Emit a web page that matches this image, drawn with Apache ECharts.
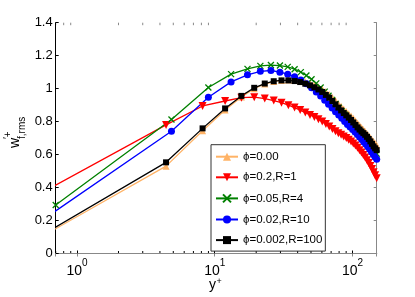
<!DOCTYPE html>
<html><head><meta charset="utf-8">
<script src="https://cdn.jsdelivr.net/npm/echarts@6/dist/echarts.min.js"></script>
<style>html,body{margin:0;padding:0;background:#fff}#c{width:415px;height:297px}</style>
</head><body><div id="c"></div>
<script>
// y+ grids
const yPlusA = [0.65, 4.43, 8.16, 11.89, 15.62, 19.35, 23.08, 26.81, 30.54, 34.27, 38.00, 41.73, 45.46, 49.19, 52.92, 56.65, 60.38, 64.11, 67.84, 71.57, 75.30, 79.03, 82.76, 86.49, 90.22, 93.95, 97.68, 101.41, 105.14, 108.87, 112.60, 116.33, 120.06, 123.79, 127.52, 131.25, 134.98, 138.71, 142.44, 146.17, 149.90];
const yPlusB = [0.70, 4.85, 8.99, 13.14, 17.29, 21.44, 25.58, 29.73, 33.88, 38.02, 42.17, 46.32, 50.46, 54.61, 58.76, 62.91, 67.05, 71.20, 75.35, 79.49, 83.64, 87.79, 91.93, 96.08, 100.23, 104.38, 108.52, 112.67, 116.82, 120.96, 125.11, 129.26, 133.40, 137.55, 141.70, 145.85, 150.00];
const yPlusBlue = [0.65, 4.85, 8.99, 13.14, 17.29, 21.44, 25.58, 29.73, 33.88, 38.02, 42.17, 46.32, 50.46, 54.61, 58.76, 62.91, 67.05, 71.20, 75.35, 79.49, 83.64, 87.79, 91.93, 96.08, 100.23, 104.38, 108.52, 112.67, 116.82, 120.96, 125.11, 129.26, 133.40, 137.55, 141.70, 145.85, 150.00];

const phi000 = [0.135, 0.53, 0.745, 0.87, 0.95, 1.0, 1.028, 1.043, 1.05, 1.053, 1.052, 1.048, 1.042, 1.034, 1.024, 1.012, 0.998, 0.982, 0.965, 0.947, 0.928, 0.91, 0.893, 0.877, 0.862, 0.848, 0.834, 0.82, 0.806, 0.792, 0.778, 0.765, 0.752, 0.74, 0.727, 0.714, 0.702, 0.69, 0.679, 0.668, 0.658];
const phi02 = [0.40, 0.78, 0.895, 0.925, 0.945, 0.948, 0.94, 0.928, 0.915, 0.90, 0.885, 0.87, 0.855, 0.84, 0.828, 0.815, 0.80, 0.785, 0.77, 0.755, 0.742, 0.73, 0.72, 0.71, 0.70, 0.69, 0.679, 0.668, 0.655, 0.641, 0.627, 0.612, 0.597, 0.582, 0.566, 0.549, 0.531, 0.512, 0.493, 0.474, 0.456];
const phi005 = [0.294, 0.813, 1.007, 1.088, 1.12, 1.138, 1.143, 1.14, 1.132, 1.118, 1.10, 1.08, 1.057, 1.032, 1.007, 0.982, 0.957, 0.932, 0.907, 0.884, 0.862, 0.842, 0.823, 0.805, 0.788, 0.772, 0.756, 0.741, 0.726, 0.711, 0.696, 0.681, 0.666, 0.651, 0.636, 0.621, 0.606];
const phi002 = [0.24, 0.742, 0.948, 1.041, 1.084, 1.105, 1.11, 1.10, 1.088, 1.072, 1.052, 1.03, 1.005, 0.98, 0.955, 0.93, 0.906, 0.882, 0.86, 0.84, 0.82, 0.80, 0.783, 0.767, 0.752, 0.737, 0.722, 0.707, 0.692, 0.677, 0.662, 0.647, 0.632, 0.616, 0.601, 0.586, 0.571];
const phi0002 = [0.145, 0.553, 0.759, 0.88, 0.956, 1.005, 1.031, 1.045, 1.05, 1.05, 1.046, 1.04, 1.03, 1.02, 1.008, 0.995, 0.98, 0.962, 0.945, 0.925, 0.905, 0.885, 0.868, 0.852, 0.838, 0.824, 0.81, 0.795, 0.78, 0.765, 0.752, 0.74, 0.73, 0.72, 0.708, 0.695, 0.68, 0.665, 0.65, 0.638, 0.627];

const seriesNames = ['ϕ=0.00', 'ϕ=0.2,R=1', 'ϕ=0.05,R=4', 'ϕ=0.02,R=10', 'ϕ=0.002,R=100'];
const xTicks = [1, 10, 100];

const zip = (xs, ys) => xs.map((x, i) => [x, ys[i]]);
const FONT = 'Liberation Sans';
const chart = echarts.init(document.getElementById('c'), null, {renderer: 'canvas'});

const triDown = 'path://M0,0 L10,0 L5,9 Z';
const cross = 'path://M0,0 L10,10 M10,0 L0,10';

function mk(name, xs, ys, color, symbol, size, extra) {
  return Object.assign({
    name, type: 'line', data: zip(xs, ys), xAxisIndex: 0, yAxisIndex: 0,
    symbol, symbolSize: size, showAllSymbol: true, clip: true,
    lineStyle: {color, width: 1.3},
    itemStyle: {color, borderColor: color, borderWidth: 0},
    emphasis: {disabled: true}, animation: false
  }, extra || {});
}

const option = {
  animation: false,
  backgroundColor: '#fff',
  textStyle: {fontFamily: FONT},
  grid: {show: false, left: 55.7, top: 22.7, width: 321, height: 230.8},
  legend: {
    left: 211, top: 144.7, orient: 'vertical',
    itemWidth: 22, itemHeight: 10, itemGap: 8.6,
    padding: [6, 3, 5, 4],
    backgroundColor: '#fff', borderColor: '#333', borderWidth: 1, borderRadius: 0,
    textStyle: {fontSize: 11.5, color: '#000', fontFamily: FONT},
    data: seriesNames
  },
  xAxis: [{
    type: 'log', logBase: 10, min: 0.7, max: 150, splitNumber: 3,
    position: 'bottom',
    axisLine: {lineStyle: {color: '#000', width: 1}},
    axisTick: {inside: true, length: 3, lineStyle: {color: '#000'}},
    splitLine: {show: false},
    axisLabel: {
      margin: 5, showMinLabel: false, showMaxLabel: false,
      formatter: v => xTicks.includes(Math.round(v)) ? '{b|10}{s|' + Math.round(Math.log10(v)) + '}' : '',
      rich: {
        b: {fontSize: 14, fontFamily: FONT, color: '#000', verticalAlign: 'bottom', lineHeight: 20},
        s: {fontSize: 10, fontFamily: FONT, color: '#000', verticalAlign: 'top', lineHeight: 12}
      }
    }
  }, {
    type: 'log', logBase: 10, min: 0.7, max: 150, splitNumber: 3,
    position: 'top',
    axisLine: {lineStyle: {color: '#888', width: 1}},
    axisTick: {inside: true, length: 3, lineStyle: {color: '#888'}},
    axisLabel: {show: false}, splitLine: {show: false}
  }],
  yAxis: [{
    type: 'value', min: 0, max: 1.4, interval: 0.2, position: 'left',
    axisLine: {show: true, lineStyle: {color: '#000', width: 1}},
    axisTick: {show: true, inside: true, length: 3, lineStyle: {color: '#000'}},
    splitLine: {show: false},
    axisLabel: {margin: 3, fontSize: 13, color: '#000', fontFamily: FONT,
      formatter: v => String(Math.round(v * 10) / 10)}
  }, {
    type: 'value', min: 0, max: 1.4, interval: 0.2, position: 'right',
    axisLine: {show: true, lineStyle: {color: '#888', width: 1}},
    axisTick: {show: true, inside: true, length: 3, lineStyle: {color: '#888'}},
    splitLine: {show: false}, axisLabel: {show: false}
  }],
  series: [
    mk(seriesNames[0], yPlusA, phi000, '#FFB366', 'triangle', 7),
    mk(seriesNames[1], yPlusA, phi02, '#FF0000', triDown, 8),
    mk(seriesNames[2], yPlusB, phi005, '#008000', cross, 6, {itemStyle: {color: 'none', borderColor: '#008000', borderWidth: 1.3}}),
    mk(seriesNames[3], yPlusBlue, phi002, '#0000FF', 'circle', 7),
    mk(seriesNames[4], yPlusA, phi0002, '#000000', 'rect', 6)
  ]
};
chart.setOption(option);

const labels = [
  {type: 'text', x: 8, y: 148, rotation: Math.PI / 2, style: {text: 'w', fontSize: 14, fontFamily: FONT, fill: '#000', align: 'left', verticalAlign: 'top'}},
  {type: 'text', x: 3, y: 139, rotation: Math.PI / 2, style: {text: '′+', fontSize: 10, fontFamily: FONT, fill: '#000', align: 'left', verticalAlign: 'top'}},
  {type: 'text', x: 17.5, y: 139, rotation: Math.PI / 2, style: {text: 'f,rms', fontSize: 10, fontFamily: FONT, fill: '#000', align: 'left', verticalAlign: 'top'}},
  {type: 'text', x: 209, y: 285, style: {text: 'y', fontSize: 14, fontFamily: FONT, fill: '#000', align: 'left', verticalAlign: 'middle'}},
  {type: 'text', x: 216.5, y: 282, style: {text: '+', fontSize: 9, fontFamily: FONT, fill: '#000', align: 'left', verticalAlign: 'middle'}}
];

// minor ticks at 2..9 x 10^k, placed through the axis scale
const minor = [];
const yb = chart.convertToPixel({yAxisIndex: 0}, 0);
const yt = chart.convertToPixel({yAxisIndex: 0}, 1.4);
for (let k = -1; k <= 2; k++) {
  for (let m = 2; m <= 9; m++) {
    const v = m * Math.pow(10, k);
    if (v < 0.7 || v > 150) continue;
    const px = chart.convertToPixel({xAxisIndex: 0}, v);
    minor.push({type: 'line', shape: {x1: px, y1: yb, x2: px, y2: yb - 2.5}, style: {stroke: '#000', lineWidth: 1}, silent: true});
    minor.push({type: 'line', shape: {x1: px, y1: yt, x2: px, y2: yt + 2.5}, style: {stroke: '#888', lineWidth: 1}, silent: true});
  }
}
chart.setOption({graphic: labels.concat(minor)});
</script></body></html>
